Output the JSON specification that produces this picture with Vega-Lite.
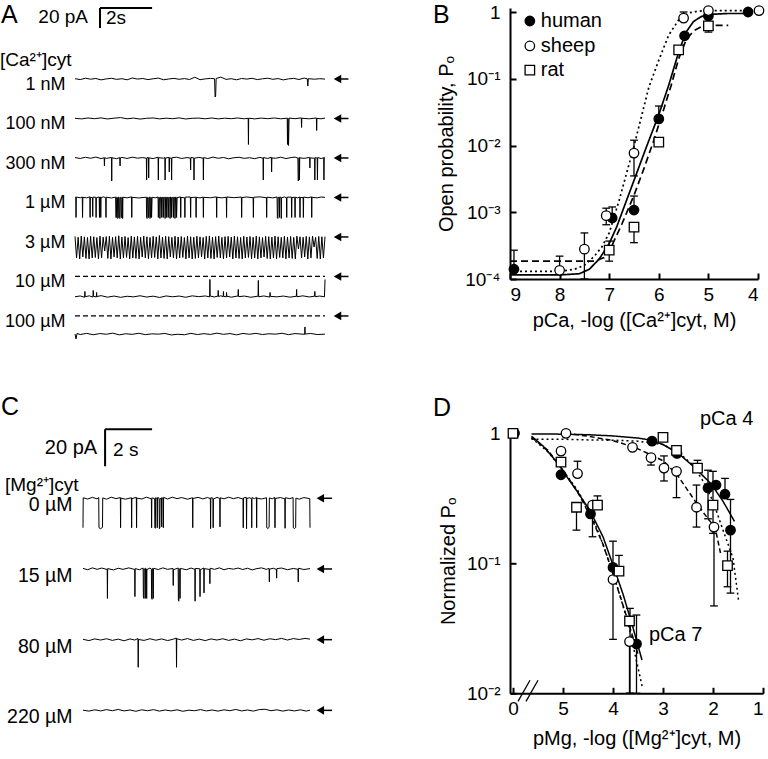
{
"$schema":"https://vega.github.io/schema/vega-lite/v6.json",
"padding":{"left":0,"top":3,"right":0,"bottom":0},
"background":"white",
"config":{"font":"Liberation Sans","view":{"stroke":null},"axis":{"grid":false,"domainColor":"black","tickColor":"black","labelColor":"black","titleColor":"black","titleFontWeight":"normal","domainWidth":2,"tickWidth":2}},
"columns":2,
"bounds":"flush",
"align":"each",
"spacing":{"row":86.3,"column":185},
"resolve":{"scale":{"fill":"independent","shape":"independent","strokeDash":"independent","strokeWidth":"independent","yOffset":"independent"},"legend":{"fill":"independent","shape":"independent","strokeDash":"independent"}},
"concat":[
{
"width":250,"height":333.7,
"layer":[
{"data":{"values":[
{"s":"1 nM","p":[{"t":0,"i":0.3},{"t":0.2,"i":-0.6},{"t":0.4,"i":0.8},{"t":0.6,"i":-0.2},{"t":0.8,"i":0.5},{"t":1,"i":-0.9},{"t":1.2,"i":0.1},{"t":1.4,"i":0.7},{"t":1.6,"i":-0.4},{"t":1.8,"i":0.3},{"t":2,"i":-0.8},{"t":2.2,"i":1},{"t":2.4,"i":-0.1},{"t":2.6,"i":0.5},{"t":2.8,"i":-0.6},{"t":3,"i":0.2},{"t":3.2,"i":0.9},{"t":3.4,"i":-0.8},{"t":3.6,"i":0},{"t":3.8,"i":0.6},{"t":4,"i":-0.3},{"t":4.2,"i":0.4},{"t":4.4,"i":-0.5},{"t":4.6,"i":1.8},{"t":4.8,"i":-0.7},{"t":5,"i":0.1},{"t":5.2,"i":0.6},{"t":5.36,"i":0.2},{"t":5.38,"i":-18},{"t":5.4,"i":-17},{"t":5.42,"i":0.5},{"t":5.6,"i":1.9},{"t":5.8,"i":-0.4},{"t":6,"i":0.3},{"t":6.2,"i":-0.8},{"t":6.4,"i":0.5},{"t":6.6,"i":-0.1},{"t":6.8,"i":0.7},{"t":7,"i":-0.6},{"t":7.2,"i":0.2},{"t":7.4,"i":0.8},{"t":7.6,"i":-0.3},{"t":7.8,"i":0.4},{"t":8,"i":-0.9},{"t":8.2,"i":0.1},{"t":8.4,"i":0.6},{"t":8.6,"i":-0.5},{"t":8.8,"i":0.9},{"t":8.92,"i":0.2},{"t":8.94,"i":-7},{"t":8.96,"i":0.3},{"t":9.2,"i":-0.2},{"t":9.4,"i":0.3},{"t":9.6,"i":-0.1}]},
{"s":"100 nM","p":[{"t":0,"i":0.2},{"t":0.25,"i":-0.4},{"t":0.5,"i":0.5},{"t":0.75,"i":-0.2},{"t":1,"i":0.6},{"t":1.25,"i":-0.5},{"t":1.5,"i":0.3},{"t":1.75,"i":0.9},{"t":2,"i":-0.3},{"t":2.25,"i":0.4},{"t":2.5,"i":-0.6},{"t":2.75,"i":0.2},{"t":3,"i":0.5},{"t":3.25,"i":-0.4},{"t":3.5,"i":0.3},{"t":3.75,"i":-0.2},{"t":4,"i":0.6},{"t":4.25,"i":-0.5},{"t":4.5,"i":0.2},{"t":4.75,"i":0.4},{"t":5,"i":-0.3},{"t":5.25,"i":0.5},{"t":5.5,"i":-0.4},{"t":5.75,"i":0.3},{"t":6,"i":-0.2},{"t":6.25,"i":0.5},{"t":6.5,"i":-0.3},{"t":6.65,"i":0.2},{"t":6.66,"i":-26},{"t":6.67,"i":0.3},{"t":6.9,"i":-0.4},{"t":7.15,"i":0.4},{"t":7.4,"i":-0.2},{"t":7.65,"i":0.5},{"t":7.9,"i":-0.3},{"t":8.15,"i":0.3},{"t":8.16,"i":-26},{"t":8.18,"i":0.1},{"t":8.2,"i":-27},{"t":8.22,"i":0.4},{"t":8.45,"i":-0.2},{"t":8.69,"i":0.6},{"t":8.7,"i":-9},{"t":8.71,"i":0.2},{"t":9,"i":-0.3},{"t":9.27,"i":0.5},{"t":9.28,"i":-12},{"t":9.29,"i":0.1},{"t":9.45,"i":-0.3},{"t":9.6,"i":0.4}]},
{"s":"300 nM","p":[{"t":0,"i":0.4},{"t":0.2,"i":-0.5},{"t":0.4,"i":0.7},{"t":0.6,"i":-0.3},{"t":0.8,"i":0.9},{"t":1,"i":-0.6},{"t":1.12,"i":0.2},{"t":1.13,"i":-8},{"t":1.14,"i":0.3},{"t":1.2,"i":-0.4},{"t":1.4,"i":0.5},{"t":1.41,"i":-23},{"t":1.42,"i":0.2},{"t":1.6,"i":-0.7},{"t":1.72,"i":0.4},{"t":1.73,"i":-8},{"t":1.74,"i":0.1},{"t":1.8,"i":0.6},{"t":2,"i":-0.5},{"t":2.2,"i":0.8},{"t":2.4,"i":-0.2},{"t":2.6,"i":0.4},{"t":2.74,"i":-0.3},{"t":2.75,"i":-22},{"t":2.76,"i":0.2},{"t":2.82,"i":0.5},{"t":2.83,"i":-20},{"t":2.84,"i":0.1},{"t":3,"i":-0.6},{"t":3.19,"i":0.7},{"t":3.2,"i":-22},{"t":3.21,"i":0.3},{"t":3.4,"i":-0.2},{"t":3.45,"i":0.4},{"t":3.46,"i":-22},{"t":3.47,"i":-0.1},{"t":3.61,"i":0.6},{"t":3.62,"i":-14},{"t":3.63,"i":0.2},{"t":3.7,"i":-0.4},{"t":3.71,"i":-22},{"t":3.72,"i":0.3},{"t":3.9,"i":0.8},{"t":4.1,"i":-0.5},{"t":4.3,"i":0.4},{"t":4.43,"i":-0.2},{"t":4.44,"i":-12},{"t":4.45,"i":0.5},{"t":4.56,"i":0.1},{"t":4.57,"i":-22},{"t":4.58,"i":-0.3},{"t":4.75,"i":0.6},{"t":4.92,"i":-0.2},{"t":4.93,"i":-22},{"t":4.94,"i":0.4},{"t":5.1,"i":-0.6},{"t":5.3,"i":0.9},{"t":5.5,"i":-0.3},{"t":5.7,"i":0.5},{"t":5.9,"i":-0.8},{"t":6.1,"i":0.2},{"t":6.3,"i":0.7},{"t":6.5,"i":-0.4},{"t":6.7,"i":0.3},{"t":6.9,"i":-0.7},{"t":7.1,"i":0.6},{"t":7.22,"i":-0.2},{"t":7.23,"i":-22},{"t":7.24,"i":0.4},{"t":7.4,"i":-0.5},{"t":7.54,"i":0.7},{"t":7.55,"i":-14},{"t":7.56,"i":0.1},{"t":7.7,"i":-0.3},{"t":7.9,"i":0.8},{"t":8.1,"i":-0.6},{"t":8.3,"i":0.4},{"t":8.45,"i":0.9},{"t":8.56,"i":-0.2},{"t":8.57,"i":-23},{"t":8.59,"i":-22},{"t":8.6,"i":0.3},{"t":8.61,"i":0.5},{"t":8.62,"i":-22},{"t":8.63,"i":0.2},{"t":8.8,"i":-0.4},{"t":9.01,"i":0.6},{"t":9.02,"i":-10},{"t":9.03,"i":0.1},{"t":9.2,"i":-0.3},{"t":9.21,"i":-22},{"t":9.22,"i":0.4},{"t":9.3,"i":-0.2},{"t":9.31,"i":-22},{"t":9.32,"i":0.5},{"t":9.45,"i":-0.6},{"t":9.55,"i":0.3},{"t":9.56,"i":-22},{"t":9.57,"i":0.2},{"t":9.6,"i":0}]},
{"s":"1 µM","p":[{"t":0,"i":0.3},{"t":0.03,"i":0.2},{"t":0.04,"i":-20},{"t":0.05,"i":0.4},{"t":0.2,"i":-0.3},{"t":0.28,"i":0.5},{"t":0.29,"i":-20},{"t":0.3,"i":0.1},{"t":0.45,"i":-0.4},{"t":0.57,"i":0.6},{"t":0.58,"i":-20},{"t":0.59,"i":0.2},{"t":0.67,"i":-0.3},{"t":0.68,"i":-19},{"t":0.69,"i":0.4},{"t":0.8,"i":0.1},{"t":0.81,"i":-20},{"t":0.82,"i":-0.2},{"t":0.93,"i":0.5},{"t":0.94,"i":-20},{"t":0.95,"i":0.2},{"t":0.98,"i":0.3},{"t":0.99,"i":-20},{"t":1,"i":-0.1},{"t":1.1,"i":0.6},{"t":1.18,"i":-0.3},{"t":1.19,"i":-20},{"t":1.2,"i":0.3},{"t":1.4,"i":-0.5},{"t":1.56,"i":0.4},{"t":1.57,"i":-20},{"t":1.59,"i":-20},{"t":1.6,"i":0.2},{"t":1.63,"i":-0.1},{"t":1.64,"i":-21},{"t":1.66,"i":-20},{"t":1.67,"i":0.3},{"t":1.69,"i":0.1},{"t":1.7,"i":-20},{"t":1.72,"i":-21},{"t":1.73,"i":0.2},{"t":1.76,"i":-0.2},{"t":1.77,"i":-20},{"t":1.79,"i":-20},{"t":1.8,"i":0.4},{"t":1.82,"i":0.1},{"t":1.83,"i":-21},{"t":1.84,"i":0.3},{"t":2,"i":-0.4},{"t":2.17,"i":0.6},{"t":2.18,"i":-20},{"t":2.19,"i":0.2},{"t":2.45,"i":-0.5},{"t":2.74,"i":0.3},{"t":2.75,"i":-20},{"t":2.77,"i":-21},{"t":2.78,"i":0.2},{"t":2.81,"i":-0.2},{"t":2.82,"i":-20},{"t":2.84,"i":-20},{"t":2.85,"i":0.5},{"t":2.87,"i":0.1},{"t":2.88,"i":-21},{"t":2.9,"i":-20},{"t":2.91,"i":0.3},{"t":2.93,"i":-0.1},{"t":2.94,"i":-20},{"t":2.96,"i":0.2},{"t":3.08,"i":-0.4},{"t":3.19,"i":0.5},{"t":3.2,"i":-20},{"t":3.22,"i":0.1},{"t":3.25,"i":-0.2},{"t":3.26,"i":-21},{"t":3.28,"i":0.3},{"t":3.32,"i":0.1},{"t":3.33,"i":-20},{"t":3.35,"i":-0.2},{"t":3.38,"i":0.4},{"t":3.39,"i":-20},{"t":3.41,"i":0.2},{"t":3.45,"i":-0.1},{"t":3.46,"i":-21},{"t":3.48,"i":0.3},{"t":3.51,"i":0.2},{"t":3.52,"i":-20},{"t":3.54,"i":-0.3},{"t":3.57,"i":0.4},{"t":3.58,"i":-20},{"t":3.6,"i":0.1},{"t":3.64,"i":-0.2},{"t":3.65,"i":-21},{"t":3.67,"i":0.5},{"t":3.7,"i":0.1},{"t":3.71,"i":-20},{"t":3.73,"i":-0.3},{"t":3.77,"i":0.4},{"t":3.78,"i":-20},{"t":3.8,"i":0.2},{"t":3.83,"i":-0.1},{"t":3.84,"i":-21},{"t":3.86,"i":0.3},{"t":3.89,"i":0.1},{"t":3.9,"i":-20},{"t":3.92,"i":-0.2},{"t":4.05,"i":0.6},{"t":4.06,"i":-20},{"t":4.07,"i":0.1},{"t":4.21,"i":-0.4},{"t":4.22,"i":-20},{"t":4.23,"i":0.3},{"t":4.43,"i":0.5},{"t":4.44,"i":-20},{"t":4.45,"i":-0.1},{"t":4.64,"i":0.3},{"t":4.65,"i":-20},{"t":4.66,"i":0.2},{"t":4.8,"i":-0.5},{"t":4.92,"i":0.4},{"t":4.93,"i":-20},{"t":4.94,"i":0.1},{"t":5.2,"i":-0.3},{"t":5.43,"i":0.6},{"t":5.44,"i":-20},{"t":5.45,"i":0.2},{"t":5.65,"i":-0.4},{"t":5.81,"i":0.3},{"t":5.82,"i":-20},{"t":5.83,"i":0.5},{"t":6.1,"i":-0.2},{"t":6.39,"i":0.4},{"t":6.4,"i":-20},{"t":6.41,"i":-0.1},{"t":6.6,"i":0.5},{"t":6.84,"i":-0.3},{"t":6.85,"i":-20},{"t":6.86,"i":0.2},{"t":7.1,"i":0.6},{"t":7.35,"i":-0.2},{"t":7.36,"i":-20},{"t":7.37,"i":0.3},{"t":7.6,"i":-0.4},{"t":7.76,"i":0.5},{"t":7.77,"i":-20},{"t":7.79,"i":-21},{"t":7.8,"i":0.2},{"t":7.84,"i":-0.1},{"t":7.85,"i":-20},{"t":7.86,"i":0.4},{"t":7.91,"i":0.1},{"t":7.92,"i":-21},{"t":7.93,"i":-0.2},{"t":8.05,"i":0.5},{"t":8.12,"i":-0.3},{"t":8.13,"i":-20},{"t":8.14,"i":0.2},{"t":8.31,"i":0.4},{"t":8.32,"i":-20},{"t":8.33,"i":-0.1},{"t":8.44,"i":0.3},{"t":8.45,"i":-20},{"t":8.46,"i":0.2},{"t":8.55,"i":-0.4},{"t":8.63,"i":0.5},{"t":8.64,"i":-20},{"t":8.65,"i":0.1},{"t":8.76,"i":-0.2},{"t":8.77,"i":-20},{"t":8.78,"i":0.4},{"t":8.95,"i":-0.3},{"t":9.08,"i":0.6},{"t":9.09,"i":-20},{"t":9.1,"i":0.2},{"t":9.3,"i":-0.4},{"t":9.45,"i":0.5},{"t":9.6,"i":0.1}]},
{"s":"3 µM","p":[{"t":0,"i":0.5},{"t":0.06,"i":-21},{"t":0.12,"i":-0.3},{"t":0.18,"i":-22},{"t":0.24,"i":0.8},{"t":0.3,"i":-20},{"t":0.36,"i":0.1},{"t":0.42,"i":-21.5},{"t":0.48,"i":-0.5},{"t":0.54,"i":-22},{"t":0.6,"i":0.6},{"t":0.66,"i":-21},{"t":0.72,"i":0.2},{"t":0.78,"i":-20.5},{"t":0.84,"i":-0.6},{"t":0.9,"i":-22},{"t":0.96,"i":0.9},{"t":1.02,"i":-21},{"t":1.08,"i":-0.2},{"t":1.14,"i":-14},{"t":1.2,"i":0.4},{"t":1.26,"i":-21.5},{"t":1.32,"i":0.7},{"t":1.38,"i":-22},{"t":1.44,"i":-0.4},{"t":1.5,"i":-20},{"t":1.56,"i":0.3},{"t":1.62,"i":-21},{"t":1.68,"i":1.2},{"t":1.74,"i":-22},{"t":1.8,"i":-0.1},{"t":1.86,"i":-21},{"t":1.92,"i":0.5},{"t":1.98,"i":-20.5},{"t":2.04,"i":-0.6},{"t":2.1,"i":-22},{"t":2.16,"i":0.8},{"t":2.22,"i":-21},{"t":2.28,"i":0},{"t":2.34,"i":-21.5},{"t":2.4,"i":0.6},{"t":2.46,"i":-22},{"t":2.52,"i":-0.3},{"t":2.58,"i":-20},{"t":2.64,"i":0.9},{"t":2.7,"i":-21},{"t":2.76,"i":0.2},{"t":2.82,"i":-22},{"t":2.88,"i":-0.5},{"t":2.94,"i":-21},{"t":3,"i":0.7},{"t":3.06,"i":-20.5},{"t":3.12,"i":0.1},{"t":3.18,"i":-22},{"t":3.24,"i":1.5},{"t":3.3,"i":-21},{"t":3.36,"i":-0.2},{"t":3.42,"i":-21.5},{"t":3.48,"i":0.6},{"t":3.54,"i":-22},{"t":3.6,"i":0.3},{"t":3.66,"i":-20},{"t":3.72,"i":-0.4},{"t":3.78,"i":-21},{"t":3.84,"i":0.8},{"t":3.9,"i":-22},{"t":3.96,"i":0},{"t":4.02,"i":-21},{"t":4.08,"i":0.5},{"t":4.14,"i":-20.5},{"t":4.2,"i":-0.6},{"t":4.26,"i":-22},{"t":4.32,"i":0.9},{"t":4.38,"i":-21},{"t":4.44,"i":0.2},{"t":4.5,"i":-22},{"t":4.56,"i":-0.3},{"t":4.62,"i":-21.5},{"t":4.68,"i":0.7},{"t":4.74,"i":-21},{"t":4.8,"i":0.1},{"t":4.86,"i":-20},{"t":4.92,"i":-0.5},{"t":4.98,"i":-22},{"t":5.04,"i":0.6},{"t":5.1,"i":-21},{"t":5.16,"i":1},{"t":5.22,"i":-21.5},{"t":5.28,"i":-0.2},{"t":5.34,"i":-22},{"t":5.4,"i":0.4},{"t":5.46,"i":-20.5},{"t":5.52,"i":0.8},{"t":5.58,"i":-21},{"t":5.64,"i":-0.4},{"t":5.7,"i":-22},{"t":5.76,"i":0.3},{"t":5.82,"i":-21},{"t":5.88,"i":0.6},{"t":5.94,"i":-20},{"t":6,"i":-0.1},{"t":6.06,"i":-22},{"t":6.12,"i":0.9},{"t":6.18,"i":-21},{"t":6.24,"i":0.2},{"t":6.3,"i":-21.5},{"t":6.36,"i":-0.5},{"t":6.42,"i":-22},{"t":6.48,"i":0.7},{"t":6.54,"i":-21},{"t":6.6,"i":0},{"t":6.66,"i":-20.5},{"t":6.72,"i":0.5},{"t":6.78,"i":-22},{"t":6.84,"i":-0.3},{"t":6.9,"i":-21},{"t":6.96,"i":0.8},{"t":7.02,"i":-22},{"t":7.08,"i":0.1},{"t":7.14,"i":-21},{"t":7.2,"i":-0.6},{"t":7.26,"i":-20},{"t":7.32,"i":0.6},{"t":7.38,"i":-21.5},{"t":7.44,"i":0.3},{"t":7.5,"i":-22},{"t":7.56,"i":-0.2},{"t":7.62,"i":-21},{"t":7.68,"i":0.9},{"t":7.74,"i":-22},{"t":7.8,"i":0.2},{"t":7.86,"i":-20.5},{"t":7.92,"i":-0.4},{"t":7.98,"i":-21},{"t":8.04,"i":0.7},{"t":8.1,"i":-22},{"t":8.16,"i":0},{"t":8.22,"i":-21},{"t":8.28,"i":0.5},{"t":8.34,"i":-21.5},{"t":8.4,"i":-0.5},{"t":8.46,"i":-22},{"t":8.52,"i":0.8},{"t":8.58,"i":-12},{"t":8.64,"i":0.2},{"t":8.7,"i":-21},{"t":8.76,"i":-0.3},{"t":8.82,"i":-20},{"t":8.88,"i":0.6},{"t":8.94,"i":-22},{"t":9,"i":0.1},{"t":9.06,"i":-21},{"t":9.12,"i":0.9},{"t":9.18,"i":-10},{"t":9.24,"i":-0.4},{"t":9.3,"i":-21.5},{"t":9.36,"i":0.5},{"t":9.42,"i":-22},{"t":9.48,"i":0.2},{"t":9.54,"i":-21},{"t":9.6,"i":0.4}]},
{"s":"10 µM","p":[{"t":0,"i":-20.3},{"t":0.2,"i":-19.5},{"t":0.37,"i":-20.8},{"t":0.38,"i":-15},{"t":0.39,"i":-20.2},{"t":0.55,"i":-19.4},{"t":0.69,"i":-20.6},{"t":0.7,"i":-14},{"t":0.71,"i":-19.8},{"t":0.82,"i":-20.5},{"t":0.83,"i":-16},{"t":0.84,"i":-20.1},{"t":1,"i":-19.2},{"t":1.25,"i":-20.7},{"t":1.5,"i":-19.6},{"t":1.75,"i":-20.9},{"t":2,"i":-19.8},{"t":2.25,"i":-20.4},{"t":2.5,"i":-19.3},{"t":2.75,"i":-20.6},{"t":3,"i":-19.7},{"t":3.25,"i":-21},{"t":3.5,"i":-19.5},{"t":3.75,"i":-20.3},{"t":4,"i":-19.6},{"t":4.25,"i":-20.8},{"t":4.5,"i":-19.4},{"t":4.75,"i":-20.2},{"t":5,"i":-19.5},{"t":5.17,"i":-20.4},{"t":5.18,"i":-3},{"t":5.19,"i":-19.6},{"t":5.35,"i":-20.5},{"t":5.49,"i":-19.6},{"t":5.5,"i":-14},{"t":5.51,"i":-20.1},{"t":5.6,"i":-19.3},{"t":5.69,"i":-20.2},{"t":5.7,"i":-15},{"t":5.71,"i":-19.9},{"t":5.81,"i":-20.4},{"t":5.82,"i":-16},{"t":5.83,"i":-19.8},{"t":6,"i":-20.7},{"t":6.26,"i":-19.5},{"t":6.27,"i":-13},{"t":6.28,"i":-20.2},{"t":6.5,"i":-19.6},{"t":6.75,"i":-20.8},{"t":7.03,"i":-19.7},{"t":7.04,"i":-4},{"t":7.05,"i":-20.3},{"t":7.25,"i":-19.5},{"t":7.48,"i":-20.6},{"t":7.49,"i":-16},{"t":7.5,"i":-19.9},{"t":7.75,"i":-20.4},{"t":8,"i":-19.6},{"t":8.25,"i":-20.7},{"t":8.5,"i":-19.8},{"t":8.51,"i":-13},{"t":8.52,"i":-20.3},{"t":8.75,"i":-19.4},{"t":9,"i":-20.5},{"t":9.2,"i":-19.7},{"t":9.21,"i":-15},{"t":9.22,"i":-20.2},{"t":9.4,"i":-19.6},{"t":9.58,"i":-20.3},{"t":9.6,"i":-3}]},
{"s":"100 µM","p":[{"t":0,"i":-18},{"t":0.04,"i":-23},{"t":0.08,"i":-17.5},{"t":0.2,"i":-18.6},{"t":0.45,"i":-17.4},{"t":0.7,"i":-18.8},{"t":0.95,"i":-17.6},{"t":1.2,"i":-18.3},{"t":1.45,"i":-17.2},{"t":1.7,"i":-18.9},{"t":1.95,"i":-17.8},{"t":2.2,"i":-18.4},{"t":2.45,"i":-17.3},{"t":2.7,"i":-18.7},{"t":2.95,"i":-17.9},{"t":3.2,"i":-18.2},{"t":3.45,"i":-17.5},{"t":3.7,"i":-19},{"t":3.95,"i":-18.3},{"t":4.2,"i":-18.8},{"t":4.45,"i":-17.4},{"t":4.7,"i":-18.6},{"t":4.95,"i":-17.7},{"t":5.2,"i":-18.5},{"t":5.45,"i":-17.2},{"t":5.7,"i":-18.4},{"t":5.95,"i":-17.6},{"t":6.2,"i":-18.9},{"t":6.45,"i":-17.5},{"t":6.7,"i":-18.3},{"t":6.95,"i":-17.4},{"t":7.2,"i":-18.6},{"t":7.45,"i":-17.8},{"t":7.7,"i":-18.2},{"t":7.95,"i":-17.3},{"t":8.2,"i":-18.7},{"t":8.45,"i":-17.6},{"t":8.82,"i":-18.4},{"t":8.83,"i":-11},{"t":8.84,"i":-18.1},{"t":9.05,"i":-17.5},{"t":9.3,"i":-18.6},{"t":9.6,"i":-18.2}]}
]},
"transform":[{"flatten":["p"]}],
"mark":{"type":"line","color":"black"},
"encoding":{
"x":{"field":"p.t","type":"quantitative","scale":{"domain":[0,9.6],"nice":false,"zero":false},"axis":null},
"y":{"field":"s","type":"nominal","scale":{"type":"band","domain":["1 nM","100 nM","300 nM","1 µM","3 µM","10 µM","100 µM"],"paddingInner":0,"paddingOuter":0.7247,"align":1},"axis":{"title":null,"ticks":false,"domain":false,"labelFontSize":18,"labelPadding":10,"labelColor":"black"}},
"yOffset":{"field":"p.i","type":"quantitative","scale":{"domain":[-25.75,13.75],"nice":false,"zero":false,"reverse":true}},
"strokeWidth":{"field":"s","type":"nominal","scale":{"domain":["1 nM","100 nM","300 nM","1 µM","3 µM","10 µM","100 µM"],"range":[1,1,1,1.1,2,1,1]},"legend":null},
"detail":{"field":"s"},
"order":{"value":null}
}},
{"data":{"values":[{"s":"1 nM","t":10.08,"i":0},{"s":"100 nM","t":10.08,"i":0},{"s":"300 nM","t":10.08,"i":0},{"s":"1 µM","t":10.08,"i":0},{"s":"3 µM","t":10.08,"i":0},{"s":"10 µM","t":10.08,"i":0},{"s":"100 µM","t":10.08,"i":0}]},
"mark":{"type":"point","shape":"triangle-left","filled":true,"color":"black","size":75,"opacity":1},
"encoding":{"x":{"field":"t","type":"quantitative"},"y":{"field":"s","type":"nominal"},"yOffset":{"field":"i","type":"quantitative"}}},
{"data":{"values":[{"s":"1 nM","t":10.1,"t2":10.5,"i":0},{"s":"100 nM","t":10.1,"t2":10.5,"i":0},{"s":"300 nM","t":10.1,"t2":10.5,"i":0},{"s":"1 µM","t":10.1,"t2":10.5,"i":0},{"s":"3 µM","t":10.1,"t2":10.5,"i":0},{"s":"10 µM","t":10.1,"t2":10.5,"i":0},{"s":"100 µM","t":10.1,"t2":10.5,"i":0}]},
"mark":{"type":"rule","color":"black","strokeWidth":1.5},
"encoding":{"x":{"field":"t","type":"quantitative"},"x2":{"field":"t2"},"y":{"field":"s","type":"nominal"},"yOffset":{"field":"i","type":"quantitative"}}},
{"data":{"values":[{"s":"10 µM","t":0,"t2":9.6,"i":0},{"s":"100 µM","t":0,"t2":9.6,"i":0}]},
"mark":{"type":"rule","color":"black","strokeWidth":1.2,"strokeDash":[5,3]},
"encoding":{"x":{"field":"t","type":"quantitative"},"x2":{"field":"t2"},"y":{"field":"s","type":"nominal"},"yOffset":{"field":"i","type":"quantitative"}}},
{"data":{"values":[{"g":"h","s":"1 nM","t":0.96,"i":71},{"g":"h","s":"1 nM","t":2.96,"i":71},{"g":"v","s":"1 nM","t":0.96,"i":71},{"g":"v","s":"1 nM","t":0.96,"i":51}]},
"mark":{"type":"line","color":"black","strokeWidth":2},
"encoding":{"x":{"field":"t","type":"quantitative"},"y":{"field":"s","type":"nominal"},"yOffset":{"field":"i","type":"quantitative"},"detail":{"field":"g"},"order":{"value":null}}},
{"data":{"values":[{"s":"1 nM","t":0.5,"i":62,"txt":"20 pA"}]},
"mark":{"type":"text","align":"right","baseline":"middle","fontSize":19,"color":"black"},
"encoding":{"x":{"field":"t","type":"quantitative"},"y":{"field":"s","type":"nominal"},"yOffset":{"field":"i","type":"quantitative"},"text":{"field":"txt"}}},
{"data":{"values":[{"s":"1 nM","t":1.19,"i":61,"txt":"2s"},{"s":"1 nM","t":-2.88,"i":19,"txt":"[Ca²⁺]cyt"}]},
"mark":{"type":"text","align":"left","baseline":"middle","fontSize":19,"color":"black"},
"encoding":{"x":{"field":"t","type":"quantitative"},"y":{"field":"s","type":"nominal"},"yOffset":{"field":"i","type":"quantitative"},"text":{"field":"txt"}}},
{"data":{"values":[{"s":"1 nM","t":-2.84,"i":64,"txt":"A"}]},
"mark":{"type":"text","align":"left","baseline":"middle","fontSize":25,"color":"black"},
"encoding":{"x":{"field":"t","type":"quantitative"},"y":{"field":"s","type":"nominal"},"yOffset":{"field":"i","type":"quantitative"},"text":{"field":"txt"}}}
]
},
{
"width":248,"height":271,
"layer":[
{"data":{"values":[
{"sp":"human","x":9,"y":0.000115},{"sp":"human","x":8,"y":0.000115},{"sp":"human","x":7.6,"y":0.00012},{"sp":"human","x":7.4,"y":0.00014},{"sp":"human","x":7.2,"y":0.0002},{"sp":"human","x":7,"y":0.00034},{"sp":"human","x":6.85,"y":0.0006},{"sp":"human","x":6.7,"y":0.0012},{"sp":"human","x":6.5,"y":0.003},{"sp":"human","x":6.25,"y":0.0095},{"sp":"human","x":6,"y":0.029},{"sp":"human","x":5.8,"y":0.08},{"sp":"human","x":5.6,"y":0.25},{"sp":"human","x":5.45,"y":0.5},{"sp":"human","x":5.3,"y":0.72},{"sp":"human","x":5.15,"y":0.85},{"sp":"human","x":5,"y":0.92},{"sp":"human","x":4.6,"y":0.95},{"sp":"human","x":4.25,"y":0.95},
{"sp":"sheep","x":9,"y":0.00013},{"sp":"sheep","x":8,"y":0.00013},{"sp":"sheep","x":7.7,"y":0.00014},{"sp":"sheep","x":7.5,"y":0.00016},{"sp":"sheep","x":7.3,"y":0.00022},{"sp":"sheep","x":7.15,"y":0.0003},{"sp":"sheep","x":7,"y":0.00049},{"sp":"sheep","x":6.8,"y":0.0015},{"sp":"sheep","x":6.5,"y":0.0098},{"sp":"sheep","x":6.2,"y":0.075},{"sp":"sheep","x":6,"y":0.19},{"sp":"sheep","x":5.8,"y":0.45},{"sp":"sheep","x":5.6,"y":0.76},{"sp":"sheep","x":5.4,"y":0.97},{"sp":"sheep","x":5.2,"y":1.03},{"sp":"sheep","x":5,"y":1.05},{"sp":"sheep","x":4,"y":1.05},
{"sp":"rat","x":9,"y":0.000185},{"sp":"rat","x":7.3,"y":0.000185},{"sp":"rat","x":7.1,"y":0.00021},{"sp":"rat","x":7,"y":0.00026},{"sp":"rat","x":6.75,"y":0.00065},{"sp":"rat","x":6.5,"y":0.0018},{"sp":"rat","x":6.3,"y":0.0045},{"sp":"rat","x":6.1,"y":0.012},{"sp":"rat","x":5.9,"y":0.035},{"sp":"rat","x":5.75,"y":0.08},{"sp":"rat","x":5.6,"y":0.2},{"sp":"rat","x":5.45,"y":0.38},{"sp":"rat","x":5.3,"y":0.52},{"sp":"rat","x":5.15,"y":0.6},{"sp":"rat","x":5,"y":0.63},{"sp":"rat","x":4.6,"y":0.63}
]},
"mark":{"type":"line","color":"black","strokeWidth":1.7},
"encoding":{
"x":{"field":"x","type":"quantitative","scale":{"domain":[9,4],"nice":false,"zero":false},"axis":{"values":[9,8,7,6,5,4],"title":"pCa, -log ([Ca²⁺]cyt, M)","tickSize":-6,"labelPadding":12,"labelFontSize":19,"titleFontSize":20,"titlePadding":6}},
"y":{"field":"y","type":"quantitative","scale":{"type":"log","domain":[0.0001,1.148],"nice":false},"axis":{"values":[0.0001,0.001,0.01,0.1,1],"labelExpr":"datum.value >= 0.5 ? '1' : datum.value >= 0.05 ? '10⁻¹' : datum.value >= 0.005 ? '10⁻²' : datum.value >= 0.0005 ? '10⁻³' : '10⁻⁴'","title":"Open probability, Pₒ","tickSize":-6,"labelPadding":16,"labelFontSize":19,"titleFontSize":20,"titlePadding":8}},
"strokeDash":{"field":"sp","type":"nominal","scale":{"domain":["human","sheep","rat"],"range":[[1,0],[2,3],[7,4]]},"legend":null}
}},
{"data":{"values":[
{"x":8.92,"lo":0.00014,"hi":0.00027},{"x":6.94,"lo":0.00082,"hi":0.0012},{"x":6.5,"lo":0.00108,"hi":0.00175},{"x":6,"lo":0.025,"hi":0.039},
{"x":8,"lo":0.000135,"hi":0.00022},{"x":7.5,"lo":0.0001,"hi":0.00049},{"x":7.06,"lo":0.00065,"hi":0.00115},{"x":6.5,"lo":0.0035,"hi":0.012},{"x":5.5,"lo":0.81,"hi":1.0},
{"x":7,"lo":0.000185,"hi":0.00037},{"x":6.5,"lo":0.00035,"hi":0.0006},{"x":5,"lo":0.5,"hi":0.62}
]},
"layer":[
{"mark":{"type":"rule","color":"black","strokeWidth":1.3},"encoding":{"x":{"field":"x","type":"quantitative"},"y":{"field":"lo","type":"quantitative"},"y2":{"field":"hi"}}},
{"mark":{"type":"point","shape":"stroke","size":60,"color":"black","strokeWidth":1.3,"opacity":1},"encoding":{"x":{"field":"x","type":"quantitative"},"y":{"field":"hi","type":"quantitative"}}},
{"mark":{"type":"point","shape":"stroke","size":60,"color":"black","strokeWidth":1.3,"opacity":1},"encoding":{"x":{"field":"x","type":"quantitative"},"y":{"field":"lo","type":"quantitative"}}}
]},
{"data":{"values":[
{"sp":"human","x":8.92,"y":0.00014},{"sp":"human","x":6.94,"y":0.00082},{"sp":"human","x":6.5,"y":0.00108},{"sp":"human","x":6,"y":0.025},{"sp":"human","x":5.48,"y":0.44},{"sp":"human","x":5,"y":0.87},{"sp":"human","x":4.2,"y":1},
{"sp":"sheep","x":8,"y":0.000135},{"sp":"sheep","x":7.5,"y":0.00028},{"sp":"sheep","x":7.06,"y":0.00089},{"sp":"sheep","x":6.5,"y":0.0077},{"sp":"sheep","x":5.5,"y":0.81},{"sp":"sheep","x":5,"y":1.05},{"sp":"sheep","x":3.98,"y":1.05},
{"sp":"rat","x":7,"y":0.00027},{"sp":"rat","x":6.5,"y":0.0006},{"sp":"rat","x":6,"y":0.0112},{"sp":"rat","x":5.6,"y":0.27},{"sp":"rat","x":5,"y":0.62}
]},
"mark":{"type":"point","filled":true,"stroke":"black","strokeWidth":1.3,"size":90,"opacity":1},
"encoding":{
"x":{"field":"x","type":"quantitative"},
"y":{"field":"y","type":"quantitative"},
"fill":{"field":"sp","type":"nominal","scale":{"domain":["human","sheep","rat"],"range":["black","white","white"]},"legend":null},
"shape":{"field":"sp","type":"nominal","scale":{"domain":["human","sheep","rat"],"range":["circle","circle","square"]},"legend":null}
}},
{"data":{"values":[{"sp":"human","x":8.6,"y":0.733},{"sp":"sheep","x":8.6,"y":0.31},{"sp":"rat","x":8.6,"y":0.135}]},
"layer":[
{"mark":{"type":"point","filled":true,"stroke":"black","strokeWidth":1.3,"size":90,"opacity":1},
"encoding":{"x":{"field":"x","type":"quantitative"},"y":{"field":"y","type":"quantitative"},
"fill":{"field":"sp","type":"nominal","scale":{"domain":["human","sheep","rat"],"range":["black","white","white"]},"legend":null},
"shape":{"field":"sp","type":"nominal","scale":{"domain":["human","sheep","rat"],"range":["circle","circle","square"]},"legend":null}}},
{"mark":{"type":"text","align":"left","baseline":"middle","fontSize":20,"color":"black","dx":11},
"encoding":{"x":{"field":"x","type":"quantitative"},"y":{"field":"y","type":"quantitative"},"text":{"field":"sp"}}}
]},
{"data":{"values":[{"x":10.55,"y":0.9,"txt":"B"}]},
"mark":{"type":"text","align":"left","baseline":"middle","fontSize":25,"color":"black"},
"encoding":{"x":{"field":"x","type":"quantitative"},"y":{"field":"y","type":"quantitative"},"text":{"field":"txt"}}}
]
},
{
"width":235,"height":324.4,
"layer":[
{"data":{"values":[
{"s":"0 µM","p":[{"t":0,"i":-16},{"t":0.01,"i":0.3},{"t":0.2,"i":-0.4},{"t":0.4,"i":0.5},{"t":0.6,"i":-0.3},{"t":0.67,"i":0.4},{"t":0.68,"i":-16},{"t":0.75,"i":-16.5},{"t":0.83,"i":-15.8},{"t":0.84,"i":0.2},{"t":1,"i":-0.5},{"t":1.2,"i":0.6},{"t":1.4,"i":-0.2},{"t":1.59,"i":0.4},{"t":1.6,"i":-16},{"t":1.61,"i":0.1},{"t":1.8,"i":-0.5},{"t":2.06,"i":0.3},{"t":2.07,"i":-16},{"t":2.08,"i":-0.2},{"t":2.27,"i":0.5},{"t":2.28,"i":-16},{"t":2.29,"i":0.1},{"t":2.5,"i":-0.4},{"t":2.7,"i":0.6},{"t":2.91,"i":-0.3},{"t":2.92,"i":-16},{"t":2.93,"i":0.2},{"t":3.05,"i":-0.2},{"t":3.06,"i":-16},{"t":3.08,"i":-16.3},{"t":3.09,"i":0.3},{"t":3.15,"i":-0.1},{"t":3.16,"i":-16},{"t":3.17,"i":0.4},{"t":3.24,"i":0.1},{"t":3.25,"i":-16.5},{"t":3.27,"i":-16},{"t":3.28,"i":-0.3},{"t":3.34,"i":0.2},{"t":3.35,"i":-15.5},{"t":3.36,"i":0.3},{"t":3.41,"i":-0.2},{"t":3.42,"i":-16},{"t":3.43,"i":0.5},{"t":3.6,"i":-0.4},{"t":3.8,"i":0.6},{"t":4,"i":-0.2},{"t":4.2,"i":0.4},{"t":4.45,"i":-0.5},{"t":4.66,"i":0.3},{"t":4.67,"i":-16},{"t":4.68,"i":-0.1},{"t":4.9,"i":0.5},{"t":5.1,"i":-0.3},{"t":5.3,"i":0.4},{"t":5.42,"i":-0.2},{"t":5.43,"i":-16.5},{"t":5.44,"i":0.3},{"t":5.53,"i":0.1},{"t":5.54,"i":-16},{"t":5.55,"i":-0.4},{"t":5.7,"i":0.5},{"t":5.82,"i":-0.1},{"t":5.83,"i":-15.5},{"t":5.84,"i":0.3},{"t":6,"i":-0.3},{"t":6.2,"i":0.6},{"t":6.4,"i":-0.2},{"t":6.6,"i":0.4},{"t":6.81,"i":-0.4},{"t":6.82,"i":-16},{"t":6.83,"i":0.2},{"t":6.95,"i":0.5},{"t":6.96,"i":-16.5},{"t":6.97,"i":-0.1},{"t":7.1,"i":0.3},{"t":7.17,"i":-0.3},{"t":7.18,"i":-16},{"t":7.19,"i":0.4},{"t":7.3,"i":-0.2},{"t":7.38,"i":0.5},{"t":7.39,"i":-16},{"t":7.4,"i":0.1},{"t":7.6,"i":-0.4},{"t":7.81,"i":0.3},{"t":7.82,"i":-16},{"t":7.87,"i":-16.4},{"t":7.92,"i":-15.8},{"t":7.93,"i":0.2},{"t":8.05,"i":-0.3},{"t":8.16,"i":0.5},{"t":8.17,"i":-16},{"t":8.18,"i":-0.1},{"t":8.4,"i":0.4},{"t":8.59,"i":-0.3},{"t":8.6,"i":-16.3},{"t":8.61,"i":0.3},{"t":8.8,"i":-0.2},{"t":8.94,"i":0.4},{"t":8.95,"i":-16},{"t":9,"i":-16.4},{"t":9.05,"i":-15.9},{"t":9.06,"i":0.1},{"t":9.2,"i":-0.5},{"t":9.4,"i":0.4},{"t":9.65,"i":-0.2},{"t":9.66,"i":-16}]},
{"s":"15 µM","p":[{"t":0,"i":0.3},{"t":0.2,"i":-0.4},{"t":0.4,"i":0.6},{"t":0.6,"i":-0.2},{"t":0.8,"i":0.5},{"t":1.03,"i":-0.3},{"t":1.04,"i":-16},{"t":1.05,"i":0.2},{"t":1.3,"i":-0.5},{"t":1.5,"i":0.4},{"t":1.7,"i":-0.2},{"t":1.95,"i":0.6},{"t":2.2,"i":-0.3},{"t":2.21,"i":-15},{"t":2.22,"i":0.2},{"t":2.4,"i":-0.4},{"t":2.56,"i":0.5},{"t":2.57,"i":-15},{"t":2.59,"i":-16},{"t":2.6,"i":0.1},{"t":2.64,"i":-0.2},{"t":2.65,"i":-16},{"t":2.66,"i":0.4},{"t":2.7,"i":0},{"t":2.71,"i":-16},{"t":2.72,"i":-0.3},{"t":2.85,"i":0.5},{"t":2.91,"i":-0.1},{"t":2.92,"i":-16},{"t":2.94,"i":-16.5},{"t":2.95,"i":0.3},{"t":2.98,"i":-0.2},{"t":2.99,"i":-16},{"t":3,"i":0.4},{"t":3.2,"i":-0.3},{"t":3.4,"i":0.6},{"t":3.6,"i":-0.2},{"t":3.83,"i":0.3},{"t":3.84,"i":-9},{"t":3.85,"i":-0.4},{"t":4.05,"i":0.5},{"t":4.06,"i":-17},{"t":4.08,"i":-17.5},{"t":4.09,"i":0.2},{"t":4.12,"i":-0.3},{"t":4.13,"i":-16},{"t":4.14,"i":0.3},{"t":4.4,"i":-0.4},{"t":4.6,"i":0.5},{"t":4.76,"i":-0.2},{"t":4.77,"i":-17.5},{"t":4.78,"i":0.3},{"t":4.97,"i":0.1},{"t":4.98,"i":-15},{"t":4.99,"i":-0.4},{"t":5.14,"i":0.5},{"t":5.15,"i":-13},{"t":5.16,"i":0.2},{"t":5.39,"i":-0.3},{"t":5.4,"i":-8},{"t":5.41,"i":0.4},{"t":5.6,"i":-0.2},{"t":5.8,"i":0.6},{"t":6,"i":-0.4},{"t":6.2,"i":0.3},{"t":6.4,"i":-0.1},{"t":6.6,"i":0.5},{"t":6.8,"i":-0.3},{"t":7,"i":0.4},{"t":7.2,"i":-0.5},{"t":7.4,"i":0.2},{"t":7.6,"i":0.6},{"t":7.8,"i":-0.2},{"t":7.92,"i":0.3},{"t":7.93,"i":-7},{"t":7.94,"i":-0.1},{"t":8.1,"i":0.4},{"t":8.23,"i":-0.3},{"t":8.24,"i":-5},{"t":8.25,"i":0.2},{"t":8.45,"i":0.5},{"t":8.7,"i":-0.4},{"t":8.95,"i":0.3},{"t":9.15,"i":-0.2},{"t":9.16,"i":-7},{"t":9.17,"i":0.4},{"t":9.4,"i":-0.3},{"t":9.66,"i":0.2}]},
{"s":"80 µM","p":[{"t":0,"i":0.2},{"t":0.25,"i":-0.5},{"t":0.5,"i":0.4},{"t":0.75,"i":-0.2},{"t":1,"i":0.5},{"t":1.25,"i":-0.4},{"t":1.5,"i":0.3},{"t":1.75,"i":-0.6},{"t":2,"i":0.4},{"t":2.2,"i":-0.2},{"t":2.34,"i":0.6},{"t":2.35,"i":-15},{"t":2.36,"i":0.1},{"t":2.6,"i":-0.4},{"t":2.85,"i":0.5},{"t":3.1,"i":-0.3},{"t":3.35,"i":0.4},{"t":3.6,"i":-0.5},{"t":3.85,"i":0.3},{"t":3.97,"i":0.9},{"t":3.98,"i":-15},{"t":3.99,"i":0.5},{"t":4.2,"i":-0.2},{"t":4.45,"i":0.6},{"t":4.7,"i":-0.4},{"t":4.95,"i":0.3},{"t":5.2,"i":-0.5},{"t":5.45,"i":0.4},{"t":5.7,"i":-0.2},{"t":5.95,"i":0.5},{"t":6.2,"i":-0.4},{"t":6.45,"i":0.3},{"t":6.7,"i":-0.6},{"t":6.95,"i":0.4},{"t":7.2,"i":-0.1},{"t":7.45,"i":0.6},{"t":7.7,"i":-0.3},{"t":7.95,"i":0.5},{"t":8.2,"i":0},{"t":8.45,"i":0.7},{"t":8.7,"i":-0.2},{"t":8.95,"i":0.6},{"t":9.2,"i":0.1},{"t":9.45,"i":0.7},{"t":9.66,"i":0.3}]},
{"s":"220 µM","p":[{"t":0,"i":0.1},{"t":0.25,"i":-0.4},{"t":0.5,"i":0.3},{"t":0.75,"i":-0.3},{"t":1,"i":0.4},{"t":1.25,"i":-0.2},{"t":1.5,"i":0.5},{"t":1.75,"i":-0.3},{"t":2,"i":0.2},{"t":2.25,"i":-0.5},{"t":2.5,"i":0.3},{"t":2.75,"i":-0.2},{"t":3,"i":0.4},{"t":3.25,"i":-0.4},{"t":3.5,"i":0.2},{"t":3.75,"i":-0.3},{"t":4,"i":0.3},{"t":4.25,"i":-0.5},{"t":4.5,"i":0.1},{"t":4.75,"i":-0.2},{"t":5,"i":0.4},{"t":5.25,"i":-0.3},{"t":5.5,"i":0.2},{"t":5.75,"i":-0.4},{"t":6,"i":0.3},{"t":6.25,"i":-0.2},{"t":6.5,"i":0.5},{"t":6.75,"i":-0.3},{"t":7,"i":0.2},{"t":7.25,"i":-0.4},{"t":7.5,"i":0.4},{"t":7.75,"i":0.6},{"t":8,"i":-0.2},{"t":8.25,"i":0.3},{"t":8.5,"i":-0.4},{"t":8.75,"i":0.2},{"t":9,"i":-0.3},{"t":9.25,"i":0.3},{"t":9.5,"i":-0.4},{"t":9.66,"i":0.1}]}
]},
"transform":[{"flatten":["p"]}],
"mark":{"type":"line","color":"black","strokeWidth":1},
"encoding":{
"x":{"field":"p.t","type":"quantitative","scale":{"domain":[-0.34,9.66],"nice":false,"zero":false},"axis":null},
"y":{"field":"s","type":"nominal","scale":{"type":"band","domain":["0 µM","15 µM","80 µM","220 µM"],"paddingInner":0,"paddingOuter":0.2945,"align":1},"axis":{"title":null,"ticks":false,"domain":false,"labelFontSize":19.5,"labelPadding":3,"labelColor":"black"}},
"yOffset":{"field":"p.i","type":"quantitative","scale":{"domain":[-23,15.4],"nice":false,"zero":false,"reverse":true}},
"detail":{"field":"s"},
"order":{"value":null}
}},
{"data":{"values":[{"s":"0 µM","t":10.1,"i":0},{"s":"15 µM","t":10.1,"i":0},{"s":"80 µM","t":10.1,"i":0},{"s":"220 µM","t":10.1,"i":0}]},
"mark":{"type":"point","shape":"triangle-left","filled":true,"color":"black","size":75,"opacity":1},
"encoding":{"x":{"field":"t","type":"quantitative"},"y":{"field":"s","type":"nominal"},"yOffset":{"field":"i","type":"quantitative"}}},
{"data":{"values":[{"s":"0 µM","t":10.12,"t2":10.6,"i":0},{"s":"15 µM","t":10.12,"t2":10.6,"i":0},{"s":"80 µM","t":10.12,"t2":10.6,"i":0},{"s":"220 µM","t":10.12,"t2":10.6,"i":0}]},
"mark":{"type":"rule","color":"black","strokeWidth":1.5},
"encoding":{"x":{"field":"t","type":"quantitative"},"x2":{"field":"t2"},"y":{"field":"s","type":"nominal"},"yOffset":{"field":"i","type":"quantitative"}}},
{"data":{"values":[{"g":"h","s":"0 µM","t":0.94,"i":37.5},{"g":"h","s":"0 µM","t":2.94,"i":37.5},{"g":"v","s":"0 µM","t":0.94,"i":37.5},{"g":"v","s":"0 µM","t":0.94,"i":17.4}]},
"mark":{"type":"line","color":"black","strokeWidth":2},
"encoding":{"x":{"field":"t","type":"quantitative"},"y":{"field":"s","type":"nominal"},"yOffset":{"field":"i","type":"quantitative"},"detail":{"field":"g"},"order":{"value":null}}},
{"data":{"values":[{"s":"0 µM","t":0.6,"i":27.2,"txt":"20 pA"}]},
"mark":{"type":"text","align":"right","baseline":"middle","fontSize":20,"color":"black"},
"encoding":{"x":{"field":"t","type":"quantitative"},"y":{"field":"s","type":"nominal"},"yOffset":{"field":"i","type":"quantitative"},"text":{"field":"txt"}}},
{"data":{"values":[{"s":"0 µM","t":1.28,"i":26.1,"txt":"2 s"},{"s":"0 µM","t":-3.32,"i":7.1,"txt":"[Mg²⁺]cyt"}]},
"mark":{"type":"text","align":"left","baseline":"middle","fontSize":19,"color":"black"},
"encoding":{"x":{"field":"t","type":"quantitative"},"y":{"field":"s","type":"nominal"},"yOffset":{"field":"i","type":"quantitative"},"text":{"field":"txt"}}},
{"data":{"values":[{"s":"0 µM","t":-3.49,"i":49.4,"txt":"C"}]},
"mark":{"type":"text","align":"left","baseline":"middle","fontSize":25,"color":"black"},
"encoding":{"x":{"field":"t","type":"quantitative"},"y":{"field":"s","type":"nominal"},"yOffset":{"field":"i","type":"quantitative"},"text":{"field":"txt"}}}
]
},
{
"width":253,"height":265,
"layer":[
{"data":{"values":[
{"sp":"human","g":"7","x":5.63,"y":0.95},{"sp":"human","g":"7","x":5.4,"y":0.8},{"sp":"human","g":"7","x":5.24,"y":0.68},{"sp":"human","g":"7","x":5.05,"y":0.55},{"sp":"human","g":"7","x":4.9,"y":0.45},{"sp":"human","g":"7","x":4.7,"y":0.35},{"sp":"human","g":"7","x":4.45,"y":0.25},{"sp":"human","g":"7","x":4.2,"y":0.16},{"sp":"human","g":"7","x":4,"y":0.097},{"sp":"human","g":"7","x":3.8,"y":0.058},{"sp":"human","g":"7","x":3.61,"y":0.033},{"sp":"human","g":"7","x":3.42,"y":0.018},
{"sp":"rat","g":"7","x":5.63,"y":0.92},{"sp":"rat","g":"7","x":5.3,"y":0.72},{"sp":"rat","g":"7","x":5,"y":0.52},{"sp":"rat","g":"7","x":4.7,"y":0.36},{"sp":"rat","g":"7","x":4.4,"y":0.22},{"sp":"rat","g":"7","x":4.2,"y":0.14},{"sp":"rat","g":"7","x":4,"y":0.085},{"sp":"rat","g":"7","x":3.7,"y":0.035},{"sp":"rat","g":"7","x":3.41,"y":0.011},
{"sp":"sheep","g":"7","x":5.63,"y":0.93},{"sp":"sheep","g":"7","x":5.3,"y":0.74},{"sp":"sheep","g":"7","x":5,"y":0.52},{"sp":"sheep","g":"7","x":4.7,"y":0.35},{"sp":"sheep","g":"7","x":4.4,"y":0.21},{"sp":"sheep","g":"7","x":4.2,"y":0.14},{"sp":"sheep","g":"7","x":4,"y":0.083},{"sp":"sheep","g":"7","x":3.7,"y":0.036},{"sp":"sheep","g":"7","x":3.5,"y":0.02},
{"sp":"human","g":"4","x":5.63,"y":0.99},{"sp":"human","g":"4","x":5,"y":0.985},{"sp":"human","g":"4","x":4.5,"y":0.975},{"sp":"human","g":"4","x":4,"y":0.955},{"sp":"human","g":"4","x":3.5,"y":0.92},{"sp":"human","g":"4","x":3.27,"y":0.89},{"sp":"human","g":"4","x":3,"y":0.82},{"sp":"human","g":"4","x":2.69,"y":0.7},{"sp":"human","g":"4","x":2.4,"y":0.56},{"sp":"human","g":"4","x":2.04,"y":0.41},{"sp":"human","g":"4","x":1.8,"y":0.3},{"sp":"human","g":"4","x":1.57,"y":0.21},
{"sp":"rat","g":"4","x":5.63,"y":0.9},{"sp":"rat","g":"4","x":5,"y":0.9},{"sp":"rat","g":"4","x":4.5,"y":0.89},{"sp":"rat","g":"4","x":4,"y":0.885},{"sp":"rat","g":"4","x":3.5,"y":0.87},{"sp":"rat","g":"4","x":3,"y":0.82},{"sp":"rat","g":"4","x":2.7,"y":0.72},{"sp":"rat","g":"4","x":2.4,"y":0.57},{"sp":"rat","g":"4","x":2.2,"y":0.43},{"sp":"rat","g":"4","x":2,"y":0.3},{"sp":"rat","g":"4","x":1.8,"y":0.18},{"sp":"rat","g":"4","x":1.6,"y":0.11},{"sp":"rat","g":"4","x":1.49,"y":0.052},
{"sp":"sheep","g":"4","x":4.94,"y":1},{"sp":"sheep","g":"4","x":4.5,"y":0.95},{"sp":"sheep","g":"4","x":4,"y":0.88},{"sp":"sheep","g":"4","x":3.57,"y":0.78},{"sp":"sheep","g":"4","x":3.3,"y":0.7},{"sp":"sheep","g":"4","x":2.98,"y":0.61},{"sp":"sheep","g":"4","x":2.7,"y":0.47},{"sp":"sheep","g":"4","x":2.33,"y":0.29},{"sp":"sheep","g":"4","x":2.1,"y":0.22},{"sp":"sheep","g":"4","x":1.96,"y":0.19},{"sp":"sheep","g":"4","x":1.85,"y":0.12}
]},
"mark":{"type":"line","color":"black","strokeWidth":1.5},
"encoding":{
"x":{"field":"x","type":"quantitative","scale":{"domain":[6.06,1],"nice":false,"zero":false},"axis":{"values":[6,5,4,3,2,1],"labelExpr":"datum.value == 6 ? '0' : datum.label","title":"pMg, -log ([Mg²⁺]cyt, M)","tickSize":-6,"labelPadding":12,"labelFontSize":19,"titleFontSize":20,"titlePadding":10}},
"y":{"field":"y","type":"quantitative","scale":{"type":"log","domain":[0.01,1.093],"nice":false},"axis":{"values":[0.01,0.1,1],"labelExpr":"datum.value >= 0.5 ? '1' : datum.value >= 0.05 ? '10⁻¹' : '10⁻²'","title":"Normalized Pₒ","tickSize":-6,"labelPadding":16,"labelFontSize":19,"titleFontSize":20,"titlePadding":8}},
"strokeDash":{"field":"sp","type":"nominal","scale":{"domain":["human","sheep","rat"],"range":[[1,0],[5,3],[2,3]]},"legend":null},
"detail":{"field":"g"}
}},
{"data":{"values":[{"x":5.9,"x2":5.66,"y":0.00867,"y2":0.0126},{"x":5.74,"x2":5.5,"y":0.00867,"y2":0.0126}]},
"mark":{"type":"rule","color":"black","strokeWidth":1.3},
"encoding":{"x":{"field":"x","type":"quantitative"},"x2":{"field":"x2"},"y":{"field":"y","type":"quantitative"},"y2":{"field":"y2"}}},
{"data":{"values":[
{"x":4.71,"lo":0.49,"hi":0.61},{"x":4.41,"lo":0.16,"hi":0.28},{"x":3.24,"lo":0.57,"hi":0.65},{"x":2.98,"lo":0.43,"hi":0.67},{"x":2.73,"lo":0.32,"hi":0.51},{"x":2.33,"lo":0.19,"hi":0.4},{"x":1.98,"lo":0.047,"hi":0.19},{"x":3.67,"lo":0.01,"hi":0.025},
{"x":4,"lo":0.026,"hi":0.148},{"x":3.53,"lo":0.01,"hi":0.04},{"x":2.1,"lo":0.22,"hi":0.52},{"x":1.76,"lo":0.34,"hi":0.45},{"x":1.65,"lo":0.059,"hi":0.31},
{"x":4.73,"lo":0.18,"hi":0.27},{"x":4.31,"lo":0.28,"hi":0.33},{"x":3.88,"lo":0.087,"hi":0.115},{"x":3.66,"lo":0.01,"hi":0.045},{"x":2.31,"lo":0.54,"hi":0.62},{"x":2,"lo":0.17,"hi":0.51},{"x":1.71,"lo":0.066,"hi":0.124}
]},
"layer":[
{"mark":{"type":"rule","color":"black","strokeWidth":1.3},"encoding":{"x":{"field":"x","type":"quantitative"},"y":{"field":"lo","type":"quantitative"},"y2":{"field":"hi"}}},
{"mark":{"type":"point","shape":"stroke","size":60,"color":"black","strokeWidth":1.3,"opacity":1},"encoding":{"x":{"field":"x","type":"quantitative"},"y":{"field":"hi","type":"quantitative"}}},
{"mark":{"type":"point","shape":"stroke","size":60,"color":"black","strokeWidth":1.3,"opacity":1},"encoding":{"x":{"field":"x","type":"quantitative"},"y":{"field":"lo","type":"quantitative"}}}
]},
{"data":{"values":[
{"sp":"human","x":5.97,"y":1},{"sp":"human","x":3.22,"y":0.87},{"sp":"human","x":2.72,"y":0.7},{"sp":"human","x":2.1,"y":0.38},{"sp":"human","x":1.94,"y":0.4},{"sp":"human","x":1.76,"y":0.34},{"sp":"human","x":1.65,"y":0.18},
{"sp":"human","x":5.04,"y":0.48},{"sp":"human","x":4.45,"y":0.24},{"sp":"human","x":4,"y":0.093},{"sp":"human","x":3.53,"y":0.024},
{"sp":"sheep","x":4.94,"y":1},{"sp":"sheep","x":3.61,"y":0.78},{"sp":"sheep","x":3.24,"y":0.65},{"sp":"sheep","x":2.98,"y":0.54},{"sp":"sheep","x":2.73,"y":0.51},{"sp":"sheep","x":2.33,"y":0.27},{"sp":"sheep","x":1.98,"y":0.19},
{"sp":"sheep","x":5.04,"y":0.73},{"sp":"sheep","x":4.71,"y":0.49},{"sp":"sheep","x":4.41,"y":0.28},{"sp":"sheep","x":4,"y":0.075},{"sp":"sheep","x":3.67,"y":0.025},
{"sp":"rat","x":6,"y":1},{"sp":"rat","x":3,"y":0.93},{"sp":"rat","x":2.73,"y":0.74},{"sp":"rat","x":2.31,"y":0.54},{"sp":"rat","x":2,"y":0.28},{"sp":"rat","x":1.71,"y":0.096},
{"sp":"rat","x":5.04,"y":0.6},{"sp":"rat","x":4.73,"y":0.27},{"sp":"rat","x":4.31,"y":0.28},{"sp":"rat","x":3.88,"y":0.087},{"sp":"rat","x":3.67,"y":0.036}
]},
"mark":{"type":"point","filled":true,"stroke":"black","strokeWidth":1.3,"size":90,"opacity":1},
"encoding":{
"x":{"field":"x","type":"quantitative"},
"y":{"field":"y","type":"quantitative"},
"fill":{"field":"sp","type":"nominal","scale":{"domain":["human","sheep","rat"],"range":["black","white","white"]},"legend":null},
"shape":{"field":"sp","type":"nominal","scale":{"domain":["human","sheep","rat"],"range":["circle","circle","square"]},"legend":null}
}},
{"data":{"values":[{"x":2.26,"y":1.3,"txt":"pCa 4"},{"x":3.28,"y":0.028,"txt":"pCa 7"}]},
"mark":{"type":"text","align":"left","baseline":"middle","fontSize":20,"color":"black"},
"encoding":{"x":{"field":"x","type":"quantitative"},"y":{"field":"y","type":"quantitative"},"text":{"field":"txt"}}},
{"data":{"values":[{"x":7.6,"y":1.56,"txt":"D"}]},
"mark":{"type":"text","align":"left","baseline":"middle","fontSize":25,"color":"black"},
"encoding":{"x":{"field":"x","type":"quantitative"},"y":{"field":"y","type":"quantitative"},"text":{"field":"txt"}}}
]
}
]
}
